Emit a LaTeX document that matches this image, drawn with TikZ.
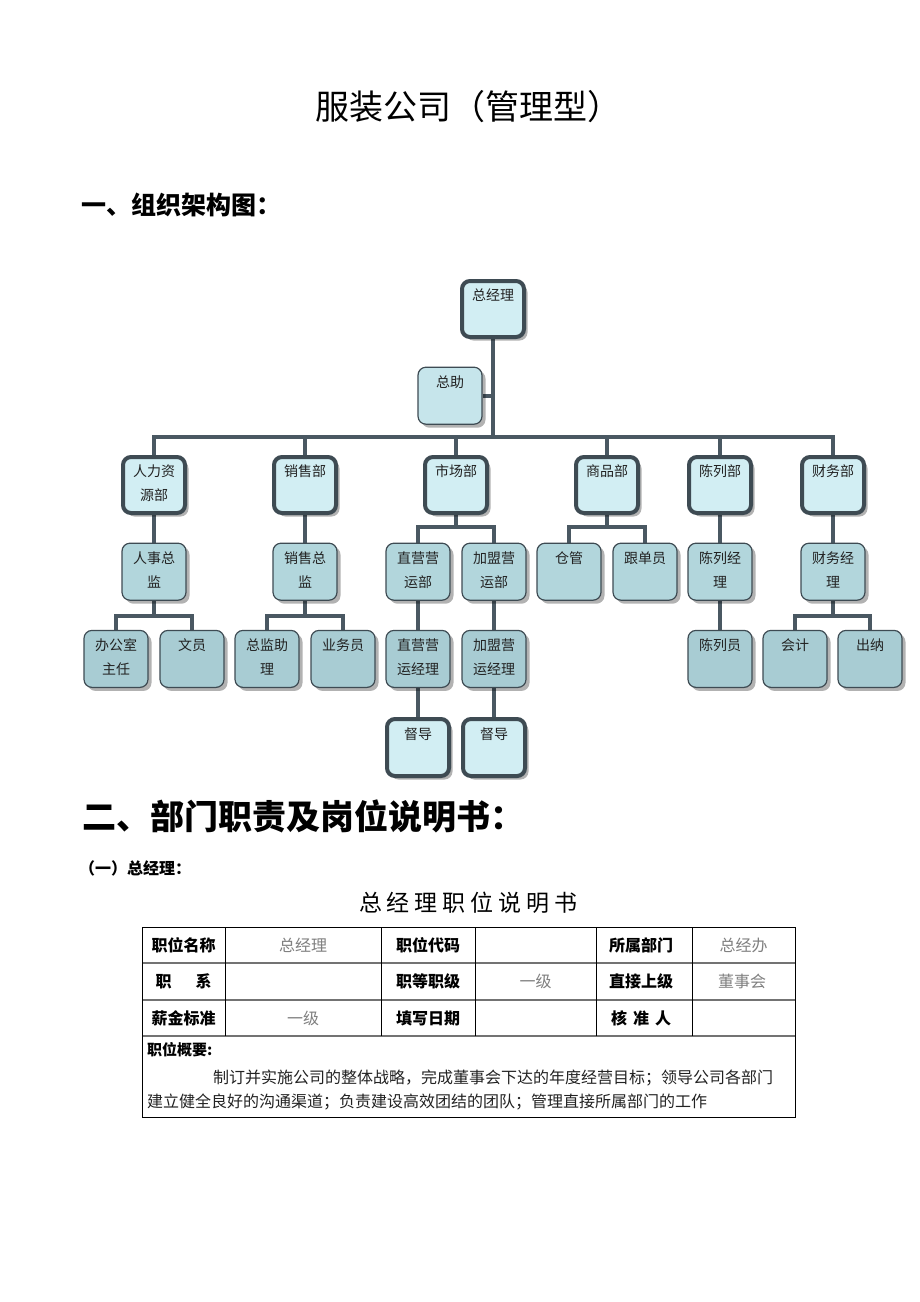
\documentclass[tikz,border=0pt]{standalone}
\usepackage{fontspec}
\setmainfont{Noto Sans CJK SC}
\usetikzlibrary{shadows,calc}
\pgfdeclarelayer{background}
\pgfsetlayers{background,main}
\definecolor{bord}{HTML}{3E4B53}
\definecolor{lnk}{HTML}{4A5862}
\definecolor{fl}{HTML}{D2EEF3}
\definecolor{fz}{HTML}{C6E5EB}
\definecolor{fthree}{HTML}{B2D6DC}
\definecolor{ffour}{HTML}{A8CCD3}
\definecolor{valgray}{HTML}{808080}
\definecolor{txt}{HTML}{222222}
\newcommand{\bt}[1]{\parbox[c][50pt][t]{62pt}{\centering\fontsize{14}{24}\selectfont\vspace{5pt}#1}}
\tikzset{
  box/.style={draw=bord, rounded corners=8pt, anchor=north, inner sep=0pt, text=txt,
    minimum width=62pt, minimum height=56pt,
    drop shadow={shadow xshift=3.5pt, shadow yshift=-3.5pt, fill=black, opacity=0.3}},
  bigbox/.style={box, line width=4pt, fill=fl},
  smallbox/.style={box, line width=1.2pt, fill=fthree, minimum width=64pt, minimum height=57pt},
  lowbox/.style={smallbox, fill=ffour},
  conn/.style={draw=lnk, line width=4pt, line join=miter},
  hdr/.style={font=\bfseries\fontsize{16}{16}\selectfont, inner sep=0pt},
  val/.style={font=\fontsize{16}{16}\selectfont, text=valgray, inner sep=0pt},
  tline/.style={draw=black, line width=0.9pt},
  hline/.style={draw=black!55, line width=1.1pt},
}
\begin{document}
\begin{tikzpicture}[x=1pt,y=-1pt]
\begin{pgfonlayer}{background}
\fill[white] (0,0) rectangle (920,1302);
\end{pgfonlayer}
\useasboundingbox (0,0) rectangle (920,1302);

% headings
\node[font=\fontsize{34}{34}\selectfont, inner sep=0pt] (title) at (468,107) {服装公司（管理型）};
\node[anchor=west, font=\bfseries\fontsize{25}{25}\selectfont, inner sep=0pt] (h1) at (81,205) {一、组织架构图：};

% org chart nodes
\node[bigbox] (gm) at (493,279) {\bt{总经理}};
\node[smallbox, fill=fz] (zz) at (450,366.6) {\bt{总助}};

\node[bigbox] (hr) at (154,455) {\bt{人力资\\源部}};
\node[bigbox] (sales) at (305,455) {\bt{销售部}};
\node[bigbox] (mkt) at (456,455) {\bt{市场部}};
\node[bigbox] (goods) at (607,455) {\bt{商品部}};
\node[bigbox] (disp) at (720,455) {\bt{陈列部}};
\node[bigbox] (fin) at (833,455) {\bt{财务部}};

\node[smallbox] (rs) at (154,542.6) {\bt{人事总\\监}};
\node[smallbox] (xszj) at (305,542.6) {\bt{销售总\\监}};
\node[smallbox] (zy) at (418,542.6) {\bt{直营营\\运部}};
\node[smallbox] (jm) at (494,542.6) {\bt{加盟营\\运部}};
\node[smallbox] (cg) at (569,542.6) {\bt{仓管}};
\node[smallbox] (gdy) at (645,542.6) {\bt{跟单员}};
\node[smallbox] (cljl) at (720,542.6) {\bt{陈列经\\理}};
\node[smallbox] (cwjl) at (833,542.6) {\bt{财务经\\理}};

\node[lowbox] (bgs) at (116,629.8) {\bt{办公室\\主任}};
\node[lowbox] (wy) at (192,629.8) {\bt{文员}};
\node[lowbox] (zjzl) at (267,629.8) {\bt{总监助\\理}};
\node[lowbox] (ywy) at (343,629.8) {\bt{业务员}};
\node[lowbox] (zyjl) at (418,629.8) {\bt{直营营\\运经理}};
\node[lowbox] (jmjl) at (494,629.8) {\bt{加盟营\\运经理}};
\node[lowbox] (cly) at (720,629.8) {\bt{陈列员}};
\node[lowbox] (kj) at (795,629.8) {\bt{会计}};
\node[lowbox] (cn) at (870,629.8) {\bt{出纳}};

\node[bigbox, minimum height=57pt] (dda) at (418,717) {\bt{督导}};
\node[bigbox, minimum height=57pt] (ddb) at (494,717) {\bt{督导}};

\coordinate (bar) at (0,437);
\coordinate (bthree) at (0,527);
\coordinate (bfour) at (0,615.5);

\begin{pgfonlayer}{background}
\draw[conn] (gm.south) -- (gm.south |- bar);
\draw[conn] (zz.east) -- (zz.east -| gm.south);
\draw[conn] (hr.north) -- (hr.north |- bar) -- (fin.north |- bar) -- (fin.north);
\foreach \n in {sales,mkt,goods,disp} \draw[conn] (\n.north) -- (\n.north |- bar);
\draw[conn] (hr.south) -- (rs.north);
\draw[conn] (sales.south) -- (xszj.north);
\draw[conn] (disp.south) -- (cljl.north);
\draw[conn] (fin.south) -- (cwjl.north);
\draw[conn] (mkt.south) -- (mkt.south |- bthree);
\draw[conn] (zy.north) -- (zy.north |- bthree) -- (jm.north |- bthree) -- (jm.north);
\draw[conn] (goods.south) -- (goods.south |- bthree);
\draw[conn] (cg.north) -- (cg.north |- bthree) -- (gdy.north |- bthree) -- (gdy.north);
\draw[conn] (rs.south) -- (rs.south |- bfour);
\draw[conn] (bgs.north) -- (bgs.north |- bfour) -- (wy.north |- bfour) -- (wy.north);
\draw[conn] (xszj.south) -- (xszj.south |- bfour);
\draw[conn] (zjzl.north) -- (zjzl.north |- bfour) -- (ywy.north |- bfour) -- (ywy.north);
\draw[conn] (zy.south) -- (zyjl.north);
\draw[conn] (jm.south) -- (jmjl.north);
\draw[conn] (cljl.south) -- (cly.north);
\draw[conn] (cwjl.south) -- (cwjl.south |- bfour);
\draw[conn] (kj.north) -- (kj.north |- bfour) -- (cn.north |- bfour) -- (cn.north);
\draw[conn] (zyjl.south) -- (dda.north);
\draw[conn] (jmjl.south) -- (ddb.north);
\end{pgfonlayer}

% section 2
\node[anchor=west, font=\bfseries\fontsize{34}{34}\selectfont, inner sep=0pt] (h2) at (82,816) {二、部门职责及岗位说明书：};
\node[anchor=west, font=\bfseries\fontsize{16}{16}\selectfont, inner sep=0pt] (h3) at (79,868) {（一）总经理：};
\node[font=\fontsize{23}{23}\selectfont, inner sep=0pt] (ttl) at (468.5,903) {总\hspace{5pt}经\hspace{5pt}理\hspace{5pt}职\hspace{5pt}位\hspace{5pt}说\hspace{5pt}明\hspace{5pt}书};

% table
\draw[hline] (142,963) -- (795,963);
\draw[hline] (142,1000) -- (795,1000);
\draw[hline] (142,1036) -- (795,1036);
\foreach \xx in {225,381,475,596,692} \draw[tline] (\xx,927) -- (\xx,1036);
\draw[tline] (142,927) rectangle (795,1117);

\node[hdr] (c11) at (183.5,945) {职位名称};
\node[val] (c12) at (303,945) {总经理};
\node[hdr] (c13) at (428,945) {职位代码};
\node[hdr] (c15) at (641,945) {所属部门};
\node[val] (c16) at (743.5,945) {总经办};

\node[hdr] (c21) at (183.5,981.5) {职\hspace{24pt}系};
\node[hdr] (c23) at (428,981.5) {职等职级};
\node[val] (c24) at (535.5,981.5) {一级};
\node[hdr] (c25) at (641,981.5) {直接上级};
\node[val] (c26) at (742,981.5) {董事会};

\node[hdr] (c31) at (183.5,1018) {薪金标准};
\node[val] (c32) at (303,1018) {一级};
\node[hdr] (c33) at (428,1018) {填写日期};
\node[hdr] (c35) at (641,1018) {核\hspace{6pt}准\hspace{6pt}人};

\node[hdr, anchor=west, font=\bfseries\fontsize{15}{15}\selectfont] (c41) at (147,1050) {职位概要:};
\node[anchor=west, inner sep=0pt, text=txt, font=\fontsize{16}{16}\selectfont] (p1) at (213,1078) {制订并实施公司的整体战略，完成董事会下达的年度经营目标；领导公司各部门};
\node[anchor=west, inner sep=0pt, text=txt, font=\fontsize{16}{16}\selectfont] (p2) at (147,1102) {建立健全良好的沟通渠道；负责建设高效团结的团队；管理直接所属部门的工作};
\end{tikzpicture}
\end{document}
